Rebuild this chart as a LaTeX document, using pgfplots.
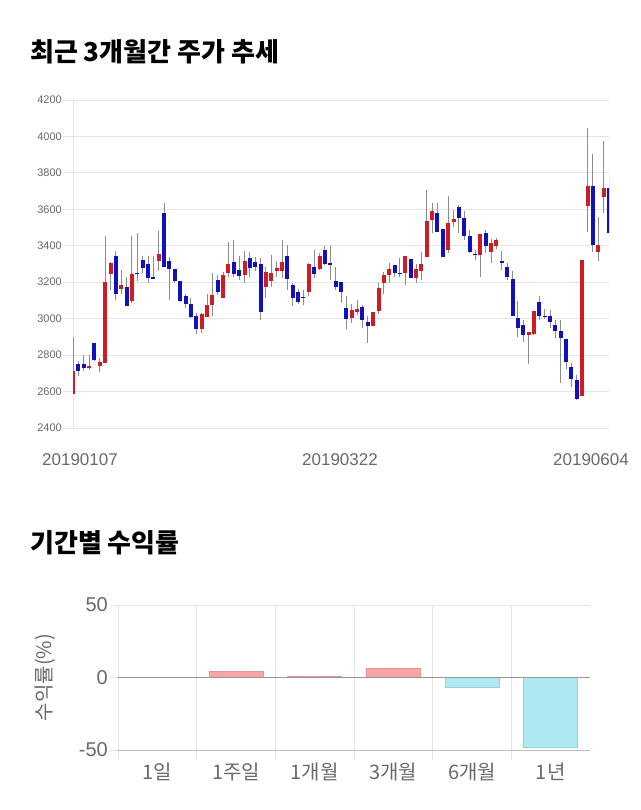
\documentclass[border=0pt]{standalone}
\usepackage{fontspec}
\setmainfont{Liberation Sans}
\newfontfamily\kr{Noto Sans CJK KR}
\usepackage{pgfplots}
\usepackage{pgfplotstable}
\pgfplotsset{compat=1.18}

\definecolor{upred}{RGB}{206,28,34}
\definecolor{downblue}{RGB}{16,16,188}
\definecolor{wickc}{RGB}{140,140,140}
\definecolor{gridc}{RGB}{228,228,228}
\definecolor{tickgray}{RGB}{105,105,105}
\definecolor{zerogray}{RGB}{150,150,150}
\definecolor{botgray}{RGB}{190,190,190}
\definecolor{posfill}{RGB}{247,166,166}
\definecolor{posdraw}{RGB}{232,148,148}
\definecolor{negfill}{RGB}{174,233,243}
\definecolor{negdraw}{RGB}{150,210,222}

% up (red) candles: x open high low close
\pgfplotstableread{
x o h l c
0 2586 2902 2586 2714
3 2727 2798 2720 2742
5 2738 2784 2705 2762
6 2756 3454 2756 3200
7 3244 3313 3158 3306
9 3162 3268 3133 3182
11 3098 3454 3085 3246
16 3314 3482 3259 3357
24 2943 3030 2921 3027
25 3008 3136 3008 3076
26 3076 3253 3012 3131
28 3116 3255 3113 3240
29 3250 3421 3231 3301
32 3237 3370 3195 3314
36 3171 3286 3113 3255
37 3204 3350 3176 3250
38 3259 3314 3231 3277
39 3259 3429 3222 3310
44 3149 3304 3125 3299
46 3273 3359 3268 3346
52 3005 3080 2976 3049
53 3036 3100 3021 3054
56 2961 3038 2961 3038
57 3040 3198 3027 3169
58 3195 3255 3136 3239
59 3240 3304 3195 3271
62 3253 3343 3186 3343
64 3222 3301 3198 3271
65 3259 3365 3213 3301
66 3337 3706 3337 3536
67 3542 3633 3469 3589
70 3377 3673 3359 3527
71 3533 3597 3505 3546
76 3352 3467 3228 3467
78 3368 3436 3304 3414
79 3396 3441 3381 3432
85 2908 2926 2753 2926
86 2915 3043 2912 3043
95 2574 3321 2574 3321
96 3620 4044 3478 3730
98 3368 3560 3319 3405
99 3666 3977 3578 3715
}\up

% down (blue) candles: x open high low close
\pgfplotstableread{
x o h l c
1 2751 2765 2687 2711
2 2753 2798 2711 2727
4 2866 2866 2765 2771
8 3346 3374 3103 3133
10 3176 3231 3072 3072
12 3253 3472 3209 3246
13 3323 3346 3250 3277
14 3299 3346 3198 3222
15 3226 3346 3219 3219
17 3578 3637 3286 3286
18 3315 3341 3103 3273
19 3273 3273 3198 3204
20 3208 3208 3091 3096
21 3127 3136 3058 3081
22 3080 3113 3003 3010
23 3012 3030 2917 2943
27 3213 3239 3131 3145
30 3310 3432 3231 3246
31 3266 3345 3213 3235
33 3332 3365 3231 3277
34 3310 3341 3259 3282
35 3301 3332 2994 3036
40 3346 3405 3158 3219
41 3186 3195 3067 3113
42 3147 3164 3080 3091
43 3120 3158 3076 3115
45 3281 3376 3222 3246
47 3376 3396 3295 3301
48 3308 3396 3213 3292
49 3208 3286 3158 3171
50 3202 3202 3085 3145
51 3058 3122 2943 2999
54 3063 3076 2948 2990
55 2981 3012 2866 2961
60 3292 3292 3231 3248
61 3253 3332 3231 3250
63 3330 3330 3222 3222
68 3582 3633 3478 3478
69 3491 3491 3341 3341
72 3613 3624 3469 3551
73 3551 3593 3432 3451
74 3454 3487 3359 3368
75 3356 3377 3323 3350
77 3471 3487 3363 3400
80 3317 3372 3268 3308
81 3286 3304 3213 3226
82 3219 3259 3012 3012
83 3003 3098 2902 2948
84 2966 2994 2871 2912
87 3089 3122 2994 3012
88 3014 3054 2997 3007
89 3014 3049 2948 2981
90 2963 2994 2893 2930
91 2933 2994 2647 2893
92 2888 2888 2723 2760
93 2734 2756 2625 2669
94 2665 2689 2552 2559
97 3730 3902 3365 3405
100 3715 3783 3438 3469
}\down

\pgfplotsset{
  candle/.style 2 args={forget plot, draw=none, mark=none,
    error bars/.cd, y dir=plus, y explicit, error mark=none,
    error bar style={draw=#1, line width=#2, solid}},
}

\begin{document}
\begin{tikzpicture}[x=1pt,y=1pt]
\fill[white] (0,0) rectangle (640,810);
\useasboundingbox (0,0) rectangle (640,810);

% titles
\node[anchor=west, inner sep=0pt, font=\kr\bfseries\fontsize{26}{26}\selectfont] at (30,758) {최근 3개월간 주가 추세};
\node[anchor=west, inner sep=0pt, font=\kr\bfseries\fontsize{26}{26}\selectfont] at (30,267) {기간별 수익률};

% ---------- candlestick chart ----------
\begin{axis}[
  at={(73pt,382pt)}, anchor=south west, scale only axis,
  width=536pt, height=328pt,
  xmin=0, xmax=100, ymin=2400, ymax=4200,
  ytick={2400,2600,...,4200},
  axis x line=none,
  axis y line*=left,
  y axis line style={draw=gridc, line width=0.8pt, -},
  ymajorgrids, grid style={draw=gridc, line width=0.8pt},
  tick align=outside, major tick length=10pt,
  ytick style={draw=gridc, line width=0.8pt},
  /pgf/number format/assume math mode=true,
  /pgf/number format/1000 sep={},
  yticklabel style={font=\fontsize{11}{11}\selectfont, text=tickgray, anchor=east, inner sep=0pt, xshift=-1pt},
  clip=true,
]
% wicks
\addplot[candle={wickc}{1pt}]
  table[x=x, y=l, y error plus expr=\thisrow{h}-\thisrow{l}] {\up};
\addplot[candle={wickc}{1pt}]
  table[x=x, y=l, y error plus expr=\thisrow{h}-\thisrow{l}] {\down};
% bodies
\addplot[candle={upred}{4pt}]
  table[x=x, y=o, y error plus expr=\thisrow{c}-\thisrow{o}] {\up};
\addplot[candle={downblue}{4pt}]
  table[x=x, y=c, y error plus expr=\thisrow{o}-\thisrow{c}] {\down};
\end{axis}

% date labels
\node[font=\fontsize{17}{17}\selectfont, text=tickgray] at (80,350) {20190107};
\node[font=\fontsize{17}{17}\selectfont, text=tickgray] at (340,350) {20190322};
\node[font=\fontsize{17}{17}\selectfont, text=tickgray] at (591,350) {20190604};

% ---------- returns bar chart ----------
\begin{axis}[
  at={(118pt,60pt)}, anchor=south west, scale only axis,
  width=472pt, height=145pt,
  xmin=-0.5, xmax=5.5, ymin=-50, ymax=50,
  axis line style={draw=none},
  xtick={0,1,2,3,4,5},
  xticklabels={1일,1주일,1개월,3개월,6개월,1년},
  minor xtick={-0.5,0.5,1.5,2.5,3.5,4.5},
  xminorgrids, minor grid style={draw=gridc, line width=0.8pt},
  major x tick style={draw=none},
  minor x tick style={draw=gridc, line width=0.8pt},
  ytick={-50,0,50},
  ymajorgrids, major grid style={draw=gridc, line width=0.8pt},
  ytick style={draw=gridc, line width=0.8pt},
  xtick pos=bottom, ytick pos=left,
  tick align=outside, major tick length=8pt, minor tick length=10pt,
  /pgf/number format/assume math mode=true,
  yticklabel style={font=\fontsize{20}{20}\selectfont, text=tickgray, anchor=east, inner sep=0pt, xshift=-2pt},
  xticklabel style={font=\kr\fontsize{20}{20}\selectfont, text=tickgray, anchor=center, yshift=-14pt},
  ylabel={수익률(\%)},
  ylabel style={font=\kr\fontsize{20}{20}\selectfont, text=tickgray, at={(axis description cs:-0.155,0.5)}, anchor=center},
  clip=false,
]
\addplot[ybar, bar width=54pt, bar shift=0pt, fill=posfill, draw=posdraw, line width=0.8pt]
  coordinates {(0,0) (1,4.1) (2,0.9) (3,6.4)};
\addplot[ybar, bar width=54pt, bar shift=0pt, fill=negfill, draw=negdraw, line width=0.8pt]
  coordinates {(4,-7.1) (5,-48.4)};
\addplot[draw=zerogray, line width=0.9pt, mark=none] coordinates {(-0.5,0) (5.5,0)};
\addplot[draw=botgray, line width=0.9pt, mark=none] coordinates {(-0.5,-50) (5.5,-50)};
\end{axis}
\end{tikzpicture}
\end{document}
